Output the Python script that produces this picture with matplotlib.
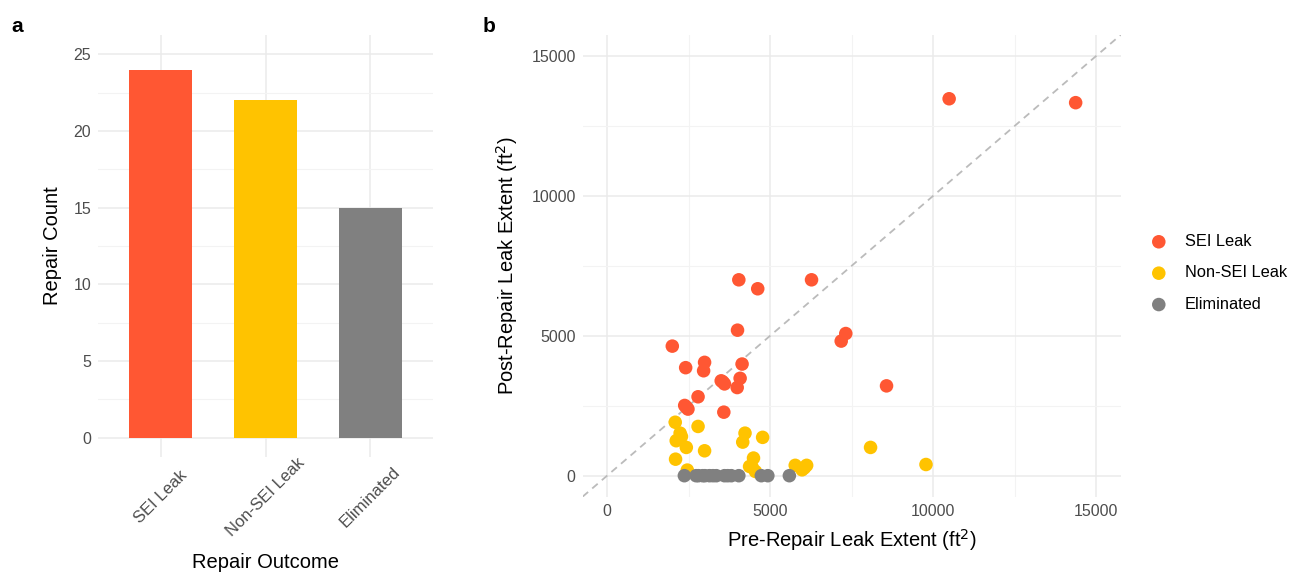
import matplotlib.pyplot as plt
from matplotlib.ticker import MultipleLocator

plt.rcParams['font.family'] = ['Liberation Sans', 'DejaVu Sans']

# data
outcomes = ["SEI Leak", "Non-SEI Leak", "Eliminated"]
repair_counts = [24, 22, 15]
colors = ["#FF5733", "#FFC300", "#808080"]

sei_pre = [4000, 2000, 2410, 2990, 2960, 4140, 3500, 3600, 4080, 3990, 2790, 2380,
           2480, 3580, 7180, 7320, 8570, 4040, 4620, 6270, 10490, 14370, 3550, 2430]
sei_post = [5200, 4630, 3860, 4050, 3750, 3990, 3390, 3280, 3480, 3150, 2820, 2510,
            2380, 2270, 4810, 5080, 3210, 7000, 6680, 7000, 13470, 13330, 3350, 2450]

non_pre = [2090, 2790, 2240, 2120, 2430, 2990, 2100, 2460, 4230, 4160, 4770, 4490,
           4370, 4550, 5770, 5980, 6120, 8080, 9780, 2280, 4450, 6050]
non_post = [1910, 1760, 1520, 1250, 1010, 890, 590, 200, 1520, 1200, 1370, 630,
            330, 150, 370, 210, 370, 1010, 400, 1400, 300, 280]

elim_pre = [2370, 2730, 2800, 2935, 3000, 3140, 3250, 3350, 3600, 3700, 3810, 4040,
            4730, 4930, 5590]
elim_post = [0] * len(elim_pre)

grid_major = "#EBEBEB"
tick_col = "#4D4D4D"

fig = plt.figure(figsize=(12.89, 5.73), dpi=100)

# panel a
ax1 = fig.add_axes([0.076, 0.2024, 0.26, 0.7365])
pos = range(1, len(outcomes) + 1)
ax1.bar(pos, repair_counts, width=0.6, color=colors, zorder=2)
ax1.set_xlim(0.4, 3.6)
ax1.set_ylim(-1.25, 26.25)
ax1.yaxis.set_major_locator(MultipleLocator(5))
ax1.yaxis.set_minor_locator(MultipleLocator(2.5))
ax1.set_xticks(list(pos))
ax1.set_xticklabels(outcomes, rotation=45, ha="center", va="center", rotation_mode="anchor")
ax1.grid(True, which="major", color=grid_major, linewidth=1.1, zorder=0)
ax1.grid(True, which="minor", axis="y", color="#F3F3F3", linewidth=0.8, zorder=0)
ax1.set_ylabel("Repair Count", fontsize=14.5, labelpad=8)
ax1.set_xlabel("Repair Outcome", fontsize=14.5, labelpad=10)

# panel b
ax2 = fig.add_axes([0.452, 0.1332, 0.4174, 0.8058])
ax2.axline((0, 0), slope=1, color="#BBBBBB", linestyle=(0, (4, 3)), linewidth=1.3, zorder=1)
ax2.scatter(sei_pre, sei_post, s=95, color=colors[0], edgecolors="none", zorder=3, label=outcomes[0])
ax2.scatter(non_pre, non_post, s=95, color=colors[1], edgecolors="none", zorder=3, label=outcomes[1])
ax2.scatter(elim_pre, elim_post, s=95, color=colors[2], edgecolors="none", zorder=3, label=outcomes[2])
ax2.set_xlim(-750, 15750)
ax2.set_ylim(-750, 15750)
for axis in (ax2.xaxis, ax2.yaxis):
    axis.set_major_locator(MultipleLocator(5000))
    axis.set_minor_locator(MultipleLocator(2500))
ax2.grid(True, which="major", color=grid_major, linewidth=1.1, zorder=0)
ax2.grid(True, which="minor", color="#F3F3F3", linewidth=0.8, zorder=0)
ax2.set_xlabel("Pre-Repair Leak Extent (ft$^2$)", fontsize=14.5, labelpad=6)
ax2.set_ylabel("Post-Repair Leak Extent (ft$^2$)", fontsize=14.5, labelpad=8)

for ax in (ax1, ax2):
    for s in ax.spines.values():
        s.set_visible(False)
    ax.tick_params(which="both", length=0, labelsize=11.5, labelcolor=tick_col, pad=5)
    ax.set_axisbelow(True)
ax1.tick_params(axis="x", pad=29, labelsize=12)

leg = ax2.legend(loc="center left", bbox_to_anchor=(1.013, 0.4845), frameon=False,
                 fontsize=11.8, handletextpad=0.6, labelspacing=1.0, markerscale=1.0)

fig.text(0.009, 0.945, "a", fontsize=15, fontweight="bold")
fig.text(0.374, 0.945, "b", fontsize=15, fontweight="bold")

fig.savefig("out.png", dpi=100)
